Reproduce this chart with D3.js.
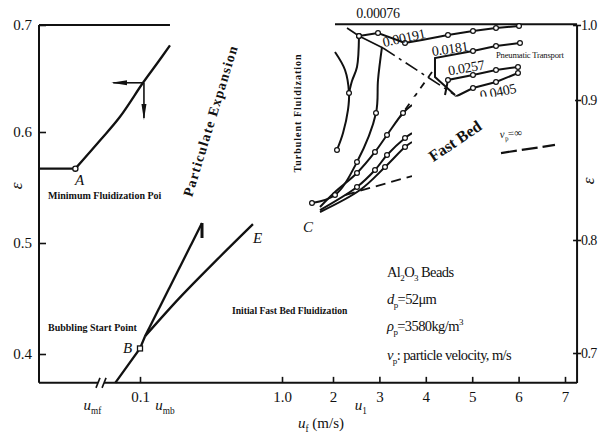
<!DOCTYPE html>
<html>
<head>
<meta charset="utf-8">
<script src="https://cdn.jsdelivr.net/npm/d3@7"></script>
<style>
  body { margin: 0; background: #fff; }
  svg { display: block; }
  text { font-family: "Liberation Serif", "Times New Roman", serif; fill: #111; }
</style>
</head>
<body>
<svg id="chart" width="599" height="434"></svg>
<script>
// ---- axis ticks
const xTicks = [0.1, 1, 2, 3, 4, 5, 6, 7];
const xTickLabels = ['0.1', '1.0', '2', '3', '4', '5', '6', '7'];
const leftTicks = [0.4, 0.5, 0.6, 0.7];
const rightTicks = [0.7, 0.8, 0.9, 1.0];

// frame limits (u in m/s, eps on left / right scale)
const uEnd = 7.26;
const uBreak = [0.0584, 0.0644];
const epsLeftFloor = 0.374;
const epsRightFloor = 0.6735;
const uLeftTopEnd = 0.29;
const uRightTopStart = 2.043;

// ---- left panel (left eps scale): [u, eps]
const minFluidLine = [[0, 0.567], [0.036, 0.567]];
const expansionCurve = [[0.036, 0.567], [0.061, 0.593], [0.080, 0.614], [0.119, 0.646], [0.208, 0.664], [0.290, 0.681]];
const arrowLeft = [[0.125, 0.646], [0.0735, 0.646]];
const arrowDown = [[0.125, 0.646], [0.125, 0.613]];
const bubbleLine = [[0.0755, 0.374], [0.1, 0.405], [0.132, 0.416]];
const steepBranch = [[0.132, 0.416], [0.493, 0.518]];
const steepTip = [[0.493, 0.518], [0.493, 0.5045]];
const eBranch = [[0.132, 0.416], [0.3535, 0.451], [0.588, 0.485], [0.816, 0.517]];
const pointA = [0.036, 0.567];
const pointB = [0.1, 0.405];

// ---- right panel (right eps scale): [u, eps]
const turbArc = [[2.043, 0.964], [2.259, 0.94], [2.345, 0.9093], [2.323, 0.8929], [2.216, 0.8764], [2.086, 0.8643]];
const turbArcDots = [[2.345, 0.9093], [2.086, 0.8643]];
const curve1 = [[2.56, 0.9853], [2.517, 0.944], [2.409, 0.9253], [2.345, 0.9093]];
const curve2 = [[1.588, 0.8264], [2.043, 0.8321], [2.517, 0.8557], [2.927, 0.8907], [2.970, 0.9267], [3.056, 0.9707]];
const curve2Dots = [[1.588, 0.8264], [2.043, 0.8321], [2.517, 0.8557], [2.927, 0.8907]];
const curve3 = [[1.745, 0.8236], [2.043, 0.8343], [2.517, 0.8479], [2.905, 0.8629], [3.164, 0.875], [3.509, 0.8907], [3.703, 0.8964]];
const curve3Dots = [[2.517, 0.8479], [2.905, 0.8629], [3.164, 0.875], [3.509, 0.8907]];
const curve4 = [[1.745, 0.8214], [2.517, 0.8379], [2.905, 0.85], [3.164, 0.8607], [3.552, 0.8729], [3.703, 0.8764]];
const curve4Dots = [[2.517, 0.8379], [2.905, 0.85], [3.164, 0.8607], [3.552, 0.8729]];
const curve5 = [[1.745, 0.82], [2.582, 0.8357], [3.121, 0.8521], [3.552, 0.8664], [3.703, 0.87]];
const curve5Dots = [[3.121, 0.8521], [3.552, 0.8664]];
const dashedC = [[2.259, 0.8321], [3.703, 0.8457]];

const diagSolid = [[2.302, 0.996], [2.56, 0.9853], [3.078, 0.9693]];
const diagDashed = [[3.078, 0.9693], [4.629, 0.9067]];
const crossDash = [[4.134, 0.9373], [3.444, 0.8879]];

const line00191 = [[2.56, 0.9853], [2.970, 0.9893], [3.552, 0.976], [3.918, 0.98], [4.478, 0.9867], [5.017, 0.992], [5.513, 0.996], [6.009, 0.9987]];
const line0181 = [[4.629, 0.9067], [4.198, 0.9307], [4.198, 0.956], [5.017, 0.9653], [5.513, 0.972], [6.03, 0.976]];
const line0257 = [[4.414, 0.9067], [4.478, 0.9267], [5.017, 0.9333], [5.513, 0.94], [5.987, 0.944]];
const line0405 = [[4.629, 0.904], [5.017, 0.916], [5.513, 0.924], [5.987, 0.936]];
const pneuDots = [
  [2.56, 0.9853], [2.970, 0.9893], [3.552, 0.976], [4.478, 0.9867], [5.017, 0.992], [5.513, 0.996], [6.009, 0.9987],
  [5.017, 0.9653], [5.513, 0.972], [6.03, 0.976],
  [4.478, 0.9267], [5.017, 0.9333], [5.513, 0.94], [5.987, 0.944],
  [5.017, 0.916], [5.513, 0.924], [5.987, 0.936]
];
const vpInfinity = [[5.621, 0.8621], [6.784, 0.8679]];

// labels on the velocity curves: [text, u, eps, angle]
const curveLabels = [
  ['0.00076', 2.97, 1.0147, 0],
  ['0.00191', 3.53, 0.9827, -12],
  ['0.0181', 4.52, 0.9680, -8],
  ['0.0257', 4.87, 0.9427, -10],
  ['0.0405', 5.556, 0.9107, -12]
];
// bottom u markers: [subscript, u]
const uMarks = [['mf', 0.053], ['mb', 0.258], ['1', 2.60]];

const svg = d3.select('#chart');

const translate = (x, y) => `translate(${x}, ${y})`;

const x = d3.scaleLinear().domain([0, 0.1, 1, 2, 7]).range([39, 140, 282, 333, 565]);
const yL = d3.scaleLinear().domain([0.4, 0.5, 0.6, 0.7]).range([354, 243, 132, 25]);
const yR = d3.scaleLinear().domain([0.7, 0.8, 0.9, 1.0]).range([353, 240, 100, 25]);

const lineL = d3.line().x(d => x(d[0])).y(d => yL(d[1]));
const lineR = d3.line().x(d => x(d[0])).y(d => yR(d[1]));
const smoothL = d3.line().x(d => x(d[0])).y(d => yL(d[1])).curve(d3.curveCatmullRom.alpha(0.5));
const smoothR = d3.line().x(d => x(d[0])).y(d => yR(d[1])).curve(d3.curveCatmullRom.alpha(0.5));

const ink = '#111';
const bottomY = yL(epsLeftFloor);

// arrow head
svg.append('defs').append('marker')
  .attr('id', 'head')
  .attr('markerUnits', 'userSpaceOnUse')
  .attr('markerWidth', 16).attr('markerHeight', 8)
  .attr('refX', 14).attr('refY', 4)
  .attr('orient', 'auto')
  .append('path').attr('d', 'M0,1.5 L16,4 L0,6.5 z').attr('fill', ink);

// ---- frame
const frame = svg.append('g').attr('stroke', ink).attr('stroke-width', 2).attr('fill', 'none');
frame.append('line').attr('x1', x(0)).attr('x2', x(uBreak[0])).attr('y1', bottomY).attr('y2', bottomY);
frame.append('line').attr('x1', x(uBreak[1])).attr('x2', x(uEnd)).attr('y1', bottomY).attr('y2', bottomY);
frame.append('line').attr('x1', x(0)).attr('x2', x(0)).attr('y1', yL(0.7)).attr('y2', bottomY);
frame.append('line').attr('x1', x(uEnd)).attr('x2', x(uEnd)).attr('y1', yR(1.0)).attr('y2', yR(epsRightFloor));
frame.append('line').attr('x1', x(0)).attr('x2', x(uLeftTopEnd)).attr('y1', yL(0.7)).attr('y2', yL(0.7));
frame.append('line').attr('x1', x(uRightTopStart)).attr('x2', x(uEnd)).attr('y1', yR(1.001)).attr('y2', yR(1.001));
uBreak.forEach(u => {
  frame.append('line')
    .attr('x1', x(u) - 2).attr('x2', x(u) + 2)
    .attr('y1', bottomY + 5).attr('y2', bottomY - 5)
    .attr('stroke-width', 1.6);
});

// ---- axes
const xAxis = d3.axisBottom(x).tickValues(xTicks)
  .tickFormat((d, i) => xTickLabels[i])
  .tickSizeInner(-6).tickSizeOuter(0).tickPadding(8);
const gx = svg.append('g').attr('transform', translate(0, bottomY)).call(xAxis);

const leftAxis = d3.axisLeft(yL).tickValues(leftTicks)
  .tickFormat(d3.format('.1f')).tickSizeInner(-7).tickSizeOuter(0).tickPadding(7);
const gl = svg.append('g').attr('transform', translate(x(0), 0)).call(leftAxis);

const rightAxis = d3.axisRight(yR).tickValues(rightTicks)
  .tickFormat(d3.format('.1f')).tickSizeInner(4).tickSizeOuter(0).tickPadding(0);
const gr = svg.append('g').attr('transform', translate(x(uEnd), 0)).call(rightAxis);
gr.selectAll('.tick line').attr('x1', -4);

[gx, gl, gr].forEach(g => {
  g.select('.domain').remove();
  g.selectAll('.tick line').attr('stroke', ink).attr('stroke-width', 1.6);
  g.selectAll('.tick text')
    .attr('font-family', '"Liberation Serif", serif')
    .attr('font-size', 15).attr('fill', ink);
});
gr.selectAll('.tick text').attr('font-size', 14).attr('letter-spacing', -0.6);

// ---- left panel curves
const left = svg.append('g').attr('fill', 'none').attr('stroke', ink).attr('stroke-width', 2.3);
left.append('path').attr('d', lineL(minFluidLine));
left.append('path').attr('d', smoothL(expansionCurve));
left.append('path').attr('d', lineL(arrowLeft)).attr('stroke-width', 1.6).attr('marker-end', 'url(#head)');
left.append('path').attr('d', lineL(arrowDown)).attr('stroke-width', 1.6).attr('marker-end', 'url(#head)');
left.append('path').attr('d', lineL(bubbleLine));
left.append('path').attr('d', lineL(steepBranch));
left.append('path').attr('d', lineL(steepTip)).attr('stroke-width', 3);
left.append('path').attr('d', smoothL(eBranch));

svg.append('circle').attr('cx', x(pointA[0])).attr('cy', yL(pointA[1])).attr('r', 2.6)
  .attr('fill', '#fff').attr('stroke', ink).attr('stroke-width', 1.3);
svg.append('rect').attr('x', x(pointB[0]) - 2.5).attr('y', yL(pointB[1]) - 2.5)
  .attr('width', 5).attr('height', 5)
  .attr('fill', '#fff').attr('stroke', ink).attr('stroke-width', 1.3);

// ---- right panel curves
const right = svg.append('g').attr('fill', 'none').attr('stroke', ink).attr('stroke-width', 2);
[turbArc, curve1, curve2, curve3, curve4, curve5].forEach(c => {
  right.append('path').attr('d', smoothR(c));
});
right.append('path').attr('d', lineR(dashedC)).attr('stroke-dasharray', '10,6').attr('stroke-width', 1.8);
right.append('path').attr('d', lineR(diagSolid)).attr('stroke-width', 1.6);
right.append('path').attr('d', lineR(diagDashed)).attr('stroke-width', 1.6).attr('stroke-dasharray', '14,5,3,5');
right.append('path').attr('d', lineR(crossDash)).attr('stroke-width', 1.8).attr('stroke-dasharray', '7,6');
[line00191, line0181, line0257, line0405].forEach(c => {
  right.append('path').attr('d', lineR(c));
});

const dots = [].concat(turbArcDots, [curve1[0]], curve2Dots, curve3Dots, curve4Dots, curve5Dots, pneuDots);
svg.append('g').selectAll('circle')
  .data(dots)
  .enter()
  .append('circle')
  .attr('cx', d => x(d[0]))
  .attr('cy', d => yR(d[1]))
  .attr('r', 2.4)
  .attr('fill', '#fff')
  .attr('stroke', ink)
  .attr('stroke-width', 1.2);

// curve labels
svg.append('g').selectAll('text')
  .data(curveLabels)
  .enter()
  .append('text')
  .attr('transform', d => `${translate(x(d[1]), yR(d[2]))} rotate(${d[3]})`)
  .attr('text-anchor', 'middle')
  .attr('dominant-baseline', 'central')
  .attr('font-size', 14)
  .attr('letter-spacing', -0.3)
  .text(d => d[0]);

// white paste-over of the fast bed region
svg.append('rect')
  .attr('x', x(3.703)).attr('y', yR(0.9045))
  .attr('width', x(uEnd) - x(3.703) - 2)
  .attr('height', yR(0.8193) - yR(0.9045))
  .attr('fill', '#fff');

svg.append('path').attr('d', lineR(vpInfinity))
  .attr('fill', 'none').attr('stroke', ink).attr('stroke-width', 2.2)
  .attr('stroke-dasharray', '16,5');

// ---- text helpers
function richText(g, px, py, parts, size, extra) {
  const t = g.append('text').attr('x', px).attr('y', py).attr('font-size', size);
  if (extra) extra(t);
  let shift = 0;
  parts.forEach(([str, kind]) => {
    const target = kind.includes('sub') ? size * 0.28 : kind.includes('sup') ? -size * 0.42 : 0;
    const s = t.append('tspan').attr('dy', target - shift).text(str);
    shift = target;
    if (kind.includes('i')) s.attr('font-style', 'italic');
    if (kind.includes('sub') || kind.includes('sup')) s.attr('font-size', size * 0.62);
  });
  return t;
}

const notes = svg.append('g');
const bold = (txt, px, py, size) => notes.append('text')
  .attr('x', px).attr('y', py).attr('font-size', size).attr('font-weight', 'bold').text(txt);

bold('Minimum Fluidization Poi', 48, 199, 10);
bold('Bubbling Start Point', 48, 331, 10);
bold('Initial Fast Bed Fluidization', 232, 314, 9.6);

notes.append('text')
  .attr('transform', `${translate(215, 122)} rotate(-73)`)
  .attr('text-anchor', 'middle').attr('font-size', 14).attr('font-weight', 'bold')
  .attr('letter-spacing', 1.2).text('Particulate Expansion');
notes.append('text')
  .attr('transform', `${translate(301, 113)} rotate(-90)`)
  .attr('text-anchor', 'middle').attr('font-size', 10).attr('font-weight', 'bold')
  .attr('letter-spacing', 1).text('Turbulent Fluidization');
notes.append('text')
  .attr('transform', `${translate(455, 141)} rotate(-34)`)
  .attr('text-anchor', 'middle').attr('dominant-baseline', 'central')
  .attr('font-size', 16).attr('font-weight', 'bold').text('Fast Bed');
notes.append('text')
  .attr('x', 496).attr('y', 58).attr('font-size', 8.6).attr('fill', '#1c1c40')
  .attr('letter-spacing', -0.2).text('Pneumatic Transport');
richText(notes, 500, 138, [['v', 'i'], ['p', 'sub'], ['=∞', '']], 11,
  t => t.attr('transform', 'rotate(-5, 500, 138)'));

// point letters
[['A', 75, 185], ['B', 123, 353], ['E', 253, 243], ['C', 303, 232]].forEach(([s, px, py]) => {
  notes.append('text').attr('x', px).attr('y', py).attr('font-size', 15)
    .attr('font-style', 'italic').text(s);
});

// property block
const block = notes.append('g').attr('letter-spacing', -0.6);
richText(block, 387, 277, [['Al', ''], ['2', 'sub'], ['O', ''], ['3', 'sub'], [' Beads', '']], 14.5);
richText(block, 387, 304, [['d', 'i'], ['p', 'sub'], ['=52μm', '']], 14.5);
richText(block, 387, 331, [['ρ', 'i'], ['p', 'sub'], ['=3580kg/m', ''], ['3', 'sup']], 14.5);
richText(block, 387, 360, [['v', 'i'], ['p', 'sub'], [': particle velocity, m/s', '']], 14.5);

// bottom velocity markers and axis titles
uMarks.forEach(([sub, u]) => {
  richText(notes, x(u), 410, [['u', 'i'], [sub, 'sub']], 15, t => t.attr('text-anchor', 'middle'));
});
richText(notes, 298, 428, [['u', 'i'], ['f', 'sub'], [' (m/s)', '']], 15);

notes.append('text').attr('transform', `${translate(22, 186)} rotate(-90)`)
  .attr('text-anchor', 'middle').attr('font-size', 17).attr('font-style', 'italic').text('ε');
notes.append('text').attr('transform', `${translate(594, 181)} rotate(-90)`)
  .attr('text-anchor', 'middle').attr('font-size', 17).attr('font-style', 'italic').text('ε');
</script>
</body>
</html>
